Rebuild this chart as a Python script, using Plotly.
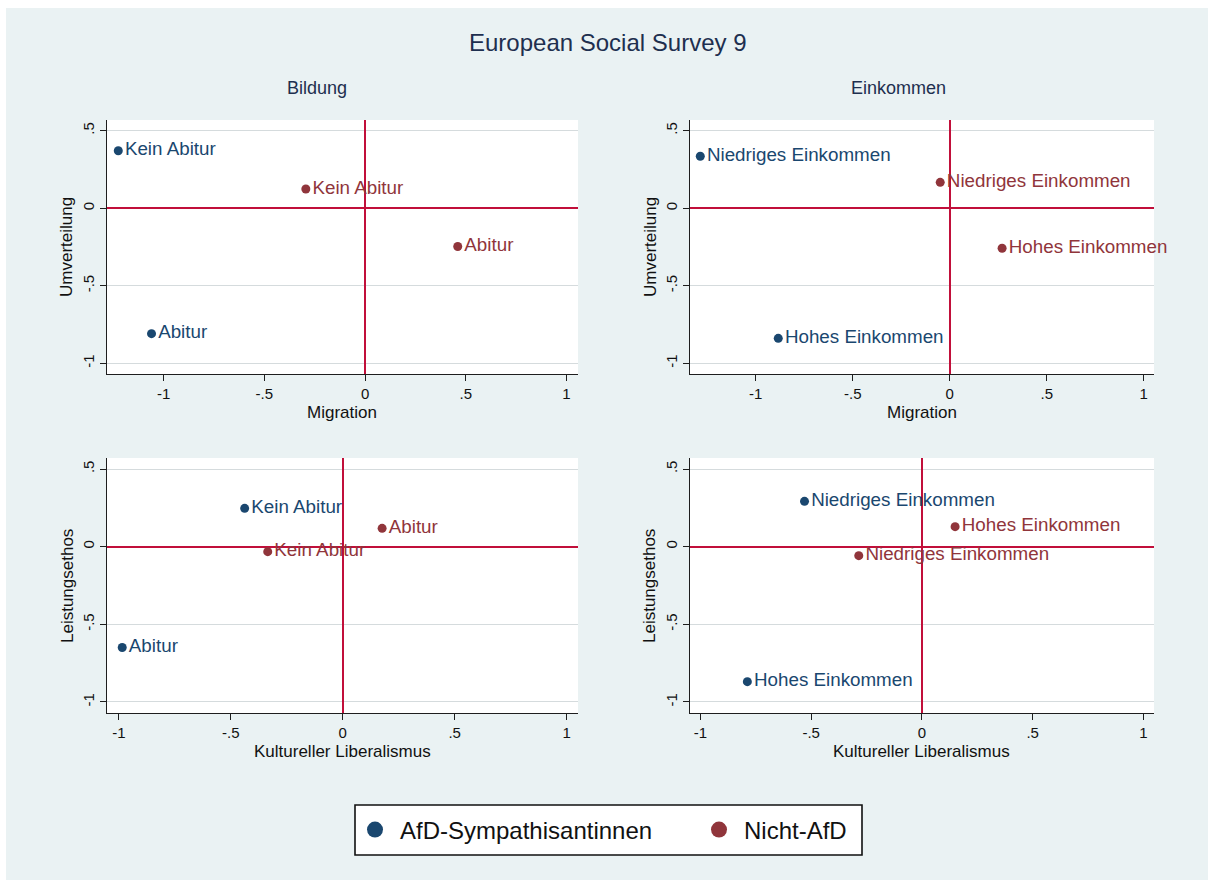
import plotly.graph_objects as go

W, H = 1208, 880

# ---- data -------------------------------------------------------------
groups = ["AfD-Sympathisantinnen", "Nicht-AfD"]
group_colors = ["#1A476F", "#90353B"]

bildung_labels = ["Kein Abitur", "Abitur"]
einkommen_labels = ["Niedriges Einkommen", "Hohes Einkommen"]

# Migration (x) vs. Umverteilung (y), Bildung
bild_mig_afd = [-1.225, -1.060]
bild_umv_afd = [0.371, -0.809]
bild_mig_nicht = [-0.294, 0.460]
bild_umv_nicht = [0.124, -0.247]

# Migration (x) vs. Umverteilung (y), Einkommen
eink_mig_afd = [-1.286, -0.884]
eink_umv_afd = [0.335, -0.839]
eink_mig_nicht = [-0.049, 0.270]
eink_umv_nicht = [0.167, -0.258]

# Kultureller Liberalismus (x) vs. Leistungsethos (y), Bildung
bild_kul_afd = [-0.438, -0.985]
bild_lei_afd = [0.247, -0.649]
bild_kul_nicht = [-0.335, 0.176]
bild_lei_nicht = [-0.032, 0.118]

# Kultureller Liberalismus (x) vs. Leistungsethos (y), Einkommen
eink_kul_afd = [-0.530, -0.788]
eink_lei_afd = [0.292, -0.869]
eink_kul_nicht = [-0.285, 0.150]
eink_lei_nicht = [-0.058, 0.129]

x_tickvals = [-1, -0.5, 0, 0.5, 1]
x_ticktext = ["-1", "-.5", "0", ".5", "1"]
y_tickvals = [-1, -0.5, 0, 0.5]
y_ticktext = ["-1", "-.5", "0", ".5"]

# ---- styling ----------------------------------------------------------
FONT = "Liberation Sans, Arial, sans-serif"
BG = "#EAF2F3"
GRID = "#D5DBDD"
REF = "#C10F3A"
AXIS = "#1E1E1E"
TITLE_COL = "#1E2F4F"


def px_x(p):
    return p / W


def px_y(p):
    return 1 - p / H


panels = [
    dict(ax="", box=(107, 120, 578, 374), xr=[-1.281, 1.057], yr=[-1.069, 0.569],
         labels=bildung_labels,
         series=[(bild_mig_afd, bild_umv_afd), (bild_mig_nicht, bild_umv_nicht)],
         xtitle="Migration", ytitle="Umverteilung",
         xt_pos=(342, 413), yt_pos=(66, 247)),
    dict(ax="2", box=(690, 120, 1154, 374), xr=[-1.339, 1.053], yr=[-1.069, 0.569],
         labels=einkommen_labels,
         series=[(eink_mig_afd, eink_umv_afd), (eink_mig_nicht, eink_umv_nicht)],
         xtitle="Migration", ytitle="Umverteilung",
         xt_pos=(922, 413), yt_pos=(650, 247)),
    dict(ax="3", box=(107, 458, 578, 713), xr=[-1.053, 1.051], yr=[-1.071, 0.571],
         labels=bildung_labels,
         series=[(bild_kul_afd, bild_lei_afd), (bild_kul_nicht, bild_lei_nicht)],
         xtitle="Kultureller Liberalismus", ytitle="Leistungsethos",
         xt_pos=(342, 751), yt_pos=(67, 586)),
    dict(ax="4", box=(690, 458, 1154, 713), xr=[-1.047, 1.048], yr=[-1.071, 0.571],
         labels=einkommen_labels,
         series=[(eink_kul_afd, eink_lei_afd), (eink_kul_nicht, eink_lei_nicht)],
         xtitle="Kultureller Liberalismus", ytitle="Leistungsethos",
         xt_pos=(921, 751), yt_pos=(649, 586)),
]

fig = go.Figure()

shapes = [
    # outer graph region
    dict(type="rect", xref="paper", yref="paper", x0=px_x(6), x1=1, y0=0, y1=px_y(8),
         fillcolor=BG, line=dict(width=0), layer="below"),
    # legend frame
    dict(type="rect", xref="paper", yref="paper", x0=px_x(355), x1=px_x(862),
         y0=px_y(855), y1=px_y(805), fillcolor="white",
         line=dict(color="#111111", width=1.6), layer="below"),
]
annotations = []

for p in panels:
    xa = "x" + p["ax"]
    ya = "y" + p["ax"]
    x0, y0, x1, y1 = p["box"]
    # white plot region
    shapes.append(dict(type="rect", xref="paper", yref="paper",
                       x0=px_x(x0), x1=px_x(x1), y0=px_y(y1), y1=px_y(y0),
                       fillcolor="white", line=dict(width=0), layer="below"))

    for (xs, ys), color in zip(p["series"], group_colors):
        fig.add_trace(go.Scatter(
            x=xs, y=ys, text=p["labels"], mode="markers+text",
            textposition="middle right",
            marker=dict(color=color, size=9),
            textfont=dict(family=FONT, size=18.8, color=color),
            xaxis=xa, yaxis=ya, showlegend=False, hoverinfo="skip",
            cliponaxis=False,
        ))

    axis_common = dict(
        showline=True, linecolor=AXIS, linewidth=1.3, mirror=False,
        ticks="outside", ticklen=6, tickwidth=1.3, tickcolor=AXIS,
        tickfont=dict(family=FONT, size=15, color="#111111"),
        zeroline=True, zerolinecolor=REF, zerolinewidth=1.5,
    )
    fig.layout["xaxis" + p["ax"]] = dict(
        axis_common, domain=[px_x(x0), px_x(x1)], range=p["xr"],
        anchor=ya, tickvals=x_tickvals, ticktext=x_ticktext, showgrid=False,
    )
    fig.layout["yaxis" + p["ax"]] = dict(
        axis_common, domain=[px_y(y1), px_y(y0)], range=p["yr"],
        anchor=xa, tickvals=y_tickvals, ticktext=y_ticktext, tickangle=-90,
        showgrid=True, gridcolor=GRID, gridwidth=1.3,
    )

    annotations.append(dict(text=p["xtitle"], xref="paper", yref="paper",
                            x=px_x(p["xt_pos"][0]), y=px_y(p["xt_pos"][1]),
                            showarrow=False, xanchor="center", yanchor="middle",
                            font=dict(family=FONT, size=17, color="#111111")))
    annotations.append(dict(text=p["ytitle"], xref="paper", yref="paper",
                            x=px_x(p["yt_pos"][0]), y=px_y(p["yt_pos"][1]),
                            showarrow=False, xanchor="center", yanchor="middle",
                            textangle=-90,
                            font=dict(family=FONT, size=17, color="#111111")))

# main and column titles
annotations.append(dict(text="European Social Survey 9", xref="paper", yref="paper",
                        x=px_x(608), y=px_y(42), showarrow=False,
                        xanchor="center", yanchor="middle",
                        font=dict(family=FONT, size=24, color=TITLE_COL)))
annotations.append(dict(text="Bildung", xref="paper", yref="paper",
                        x=px_x(317), y=px_y(88), showarrow=False,
                        xanchor="center", yanchor="middle",
                        font=dict(family=FONT, size=18, color=TITLE_COL)))
annotations.append(dict(text="Einkommen", xref="paper", yref="paper",
                        x=px_x(898), y=px_y(88), showarrow=False,
                        xanchor="center", yanchor="middle",
                        font=dict(family=FONT, size=18, color=TITLE_COL)))

# legend entries, one legend per group inside a shared frame
legend_names = ["legend", "legend2"]
legend_left = [350, 694]
for name, color, lg in zip(groups, group_colors, legend_names):
    fig.add_trace(go.Scatter(
        x=[None], y=[None], mode="markers", name=name, legend=lg,
        marker=dict(color=color, size=16), xaxis="x", yaxis="y",
    ))

legend_common = dict(
    orientation="h", xanchor="left", yanchor="middle", y=px_y(830),
    bgcolor="rgba(0,0,0,0)", borderwidth=0,
    font=dict(family=FONT, size=24, color="#111111"),
    itemsizing="trace", itemwidth=40,
)

fig.update_layout(
    width=W, height=H,
    margin=dict(l=0, r=0, t=0, b=0),
    paper_bgcolor="white",
    plot_bgcolor="rgba(0,0,0,0)",
    shapes=shapes,
    annotations=annotations,
    showlegend=True,
    legend=dict(legend_common, x=px_x(legend_left[0])),
    legend2=dict(legend_common, x=px_x(legend_left[1])),
)

fig.write_html("out.html")
